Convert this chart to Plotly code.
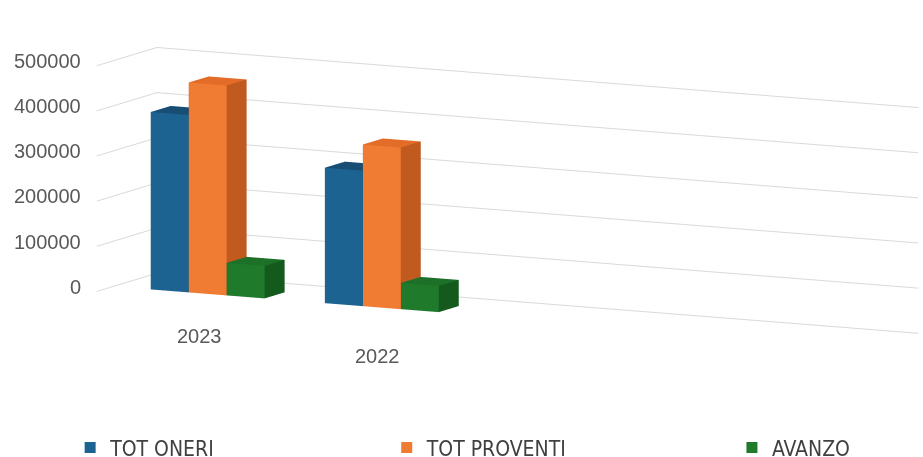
import plotly.graph_objects as go

# ---- data -------------------------------------------------------------
categories = ["2023", "2022"]
series_names = ["TOT ONERI", "TOT PROVENTI", "AVANZO"]
tot_oneri = [393000, 300000]
tot_proventi = [465000, 358000]
avanzo = [72000, 58000]
z_ticks = [0, 100000, 200000, 300000, 400000, 500000]

series_values = [tot_oneri, tot_proventi, avanzo]

# ---- styling ----------------------------------------------------------
# (front, side, top) shades for each series
shades = [
    ("#1d6391", "#174f74", "#184d74"),
    ("#f07b33", "#c05a1f", "#e26c28"),
    ("#1f7a2c", "#145a1d", "#1c7028"),
]
legend_colors = ["#1d6391", "#f07b33", "#1f7a2c"]

BAR_W = 0.218      # bar width along the category axis
BAR_D = 0.225      # bar depth
BAR_Y0 = 0.185     # front face position on the depth axis
X_RANGE = [-0.543, 3.83]
Y_RANGE = [0.0, 0.677]
Z_RANGE = [0, 500000]
SCALE = 1.245
CAM_R = 2.0

label_font = dict(family="Liberation Sans, Arial, sans-serif", size=20,
                  color="#595959")


def box(x0, x1, y0, y1, z0, z1, front, side, top):
    xs = [x0, x1, x1, x0, x0, x1, x1, x0]
    ys = [y0, y0, y1, y1, y0, y0, y1, y1]
    zs = [z0, z0, z0, z0, z1, z1, z1, z1]
    tris = [
        (0, 1, 5, front), (0, 5, 4, front),     # front
        (3, 7, 6, side), (3, 6, 2, side),       # back
        (0, 4, 7, side), (0, 7, 3, side),       # left
        (1, 2, 6, side), (1, 6, 5, side),       # right
        (0, 3, 2, side), (0, 2, 1, side),       # bottom
        (4, 5, 6, top), (4, 6, 7, top),         # top
    ]
    return xs, ys, zs, tris


fig = go.Figure()

n_series = len(series_values)
for s, (name, values) in enumerate(zip(series_names, series_values)):
    front, side, top = shades[s]
    X, Y, Z, I, J, K, FC = [], [], [], [], [], [], []
    for c, v in enumerate(values):
        x0 = c + (s - n_series / 2) * BAR_W
        xs, ys, zs, tris = box(x0, x0 + BAR_W, BAR_Y0, BAR_Y0 + BAR_D, 0, v,
                               front, side, top)
        base = len(X)
        X += xs
        Y += ys
        Z += zs
        for a, b, d, col in tris:
            I.append(base + a)
            J.append(base + b)
            K.append(base + d)
            FC.append(col)
    fig.add_trace(go.Mesh3d(
        x=X, y=Y, z=Z, i=I, j=J, k=K, facecolor=FC,
        flatshading=True,
        lighting=dict(ambient=1.0, diffuse=0.0, specular=0.0,
                      roughness=1.0, fresnel=0.0),
        hoverinfo="skip", showlegend=False, name=name,
    ))

# legend entries, one legend per series so they can be spread out
legend_keys = ["legend", "legend2", "legend3"]
for s, name in enumerate(series_names):
    fig.add_trace(go.Scatter(
        x=[None], y=[None], mode="markers", name=name,
        marker=dict(symbol="square", size=11, color=legend_colors[s]),
        legend=legend_keys[s], showlegend=True,
    ))

# value labels beside the left edge, category labels under each cluster
scene_annotations = []
for t in z_ticks:
    scene_annotations.append(dict(
        x=X_RANGE[0], y=Y_RANGE[0], z=t, text=str(t), showarrow=False,
        xanchor="right", yanchor="middle", xshift=-14, yshift=4,
        font=label_font))
for c, cat in enumerate(categories):
    scene_annotations.append(dict(
        x=c, y=Y_RANGE[0], z=0, text=cat, showarrow=False,
        xanchor="center", yanchor="middle", xshift=8 + 4 * c,
        yshift=-38 - 6 * c, font=label_font))

axis_common = dict(
    showbackground=False, showspikes=False, zeroline=False,
    showline=False, title=dict(text=""), ticks="", showticklabels=False,
)

legend_font = dict(family="DejaVu Sans Condensed, Liberation Sans Narrow, Liberation Sans, sans-serif",
                   size=21, color="#404040")
legend_base = dict(orientation="h", yanchor="middle", y=0.02, xanchor="left",
                   font=legend_font, bgcolor="rgba(0,0,0,0)")

fig.update_layout(
    width=923, height=457,
    margin=dict(l=0, r=0, t=0, b=0, autoexpand=False),
    paper_bgcolor="white",
    plot_bgcolor="rgba(0,0,0,0)",
    xaxis=dict(visible=False),
    yaxis=dict(visible=False),
    scene=dict(
        domain=dict(x=[0.1, 1.0], y=[0.164, 0.966]),
        xaxis=dict(axis_common, range=X_RANGE, showgrid=False),
        yaxis=dict(axis_common, range=Y_RANGE, showgrid=False),
        zaxis=dict(axis_common, range=Z_RANGE, showgrid=True,
                   gridcolor="#d9d9d9", gridwidth=2, tickvals=z_ticks),
        aspectmode="manual",
        aspectratio=dict(x=3.741 * SCALE, y=0.579 * SCALE, z=1.0 * SCALE),
        camera=dict(
            eye=dict(x=CAM_R * 0.449, y=-CAM_R * 0.881, z=CAM_R * 0.155),
            center=dict(x=0, y=0, z=0),
            up=dict(x=0, y=0, z=1),
            projection=dict(type="orthographic"),
        ),
        annotations=scene_annotations,
        bgcolor="white",
    ),
    legend=dict(legend_base, x=0.076),
    legend2=dict(legend_base, x=0.419),
    legend3=dict(legend_base, x=0.793),
)

fig.write_html("out.html")
